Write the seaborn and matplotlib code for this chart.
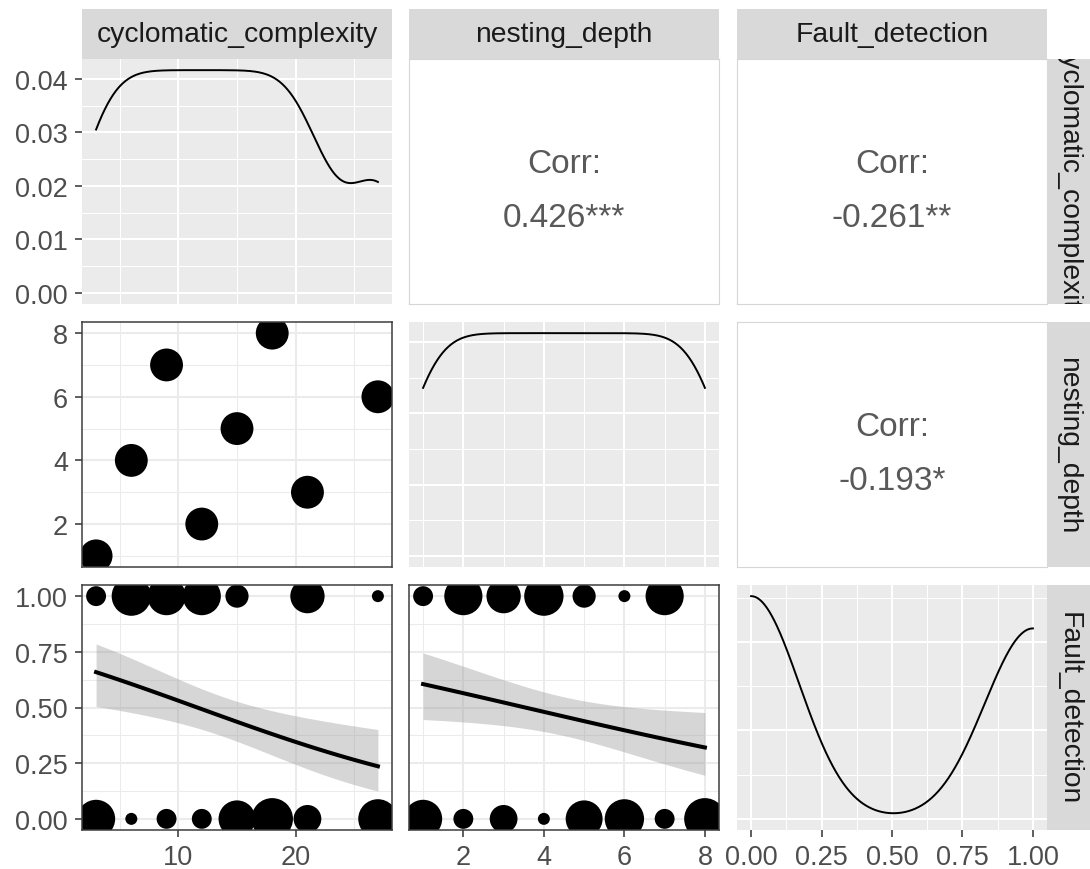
import numpy as np
import pandas as pd
import matplotlib
matplotlib.use("Agg")
import matplotlib.pyplot as plt
from matplotlib.ticker import MultipleLocator, FormatStrFormatter
import seaborn as sns

# ---------------------------------------------------------------- data
# Modules grouped by (cyclomatic_complexity, nesting_depth); for every group
# the number of modules whose fault was / was not detected.
cyclomatic_complexity = [3, 6, 9, 12, 15, 18, 21, 27]
nesting_depth = [1, 4, 7, 2, 5, 8, 3, 6]
fault_found = [3, 14, 13, 13, 4, 0, 10, 2]      # Fault_detection == 1
fault_missed = [13, 2, 3, 3, 12, 16, 6, 14]     # Fault_detection == 0

variables = ["cyclomatic_complexity", "nesting_depth", "Fault_detection"]

# Correlations printed in the upper triangle (row, column) of the matrix
corr_pairs = [(0, 1), (0, 2), (1, 2)]
corr_values = [0.426, -0.261, -0.193]
corr_stars = ["***", "**", "*"]

# Axis breaks for each variable
major_breaks = {
    "cyclomatic_complexity": [10, 20],
    "nesting_depth": [2, 4, 6, 8],
    "Fault_detection": [0.0, 0.25, 0.5, 0.75, 1.0],
}
minor_breaks = {
    "cyclomatic_complexity": [5, 15, 25],
    "nesting_depth": [1, 3, 5, 7],
    "Fault_detection": [0.125, 0.375, 0.625, 0.875],
}
tick_labels = {
    "cyclomatic_complexity": ["10", "20"],
    "nesting_depth": ["2", "4", "6", "8"],
    "Fault_detection": ["0.00", "0.25", "0.50", "0.75", "1.00"],
}
# (major, minor) spacing of the density scale on the diagonal panels
density_steps = {
    "cyclomatic_complexity": (0.01, 0.005),
    "nesting_depth": (0.04, 0.02),
    "Fault_detection": (0.5, 0.25),
}

# one row per module
records = []
for cc, nd, n1, n0 in zip(cyclomatic_complexity, nesting_depth, fault_found, fault_missed):
    records += [(cc, nd, 1)] * n1 + [(cc, nd, 0)] * n0
obs = pd.DataFrame(records, columns=variables)

# ---------------------------------------------------------------- style
plt.rcParams["font.family"] = ["Liberation Sans", "DejaVu Sans"]
TICK_FS = 19.5
STRIP_FS = 20.3
TICK_TEXT = "#4D4D4D"
TICK_MARK = "#333333"
STRIP_BG = "#D9D9D9"
PANEL_BG = "#EBEBEB"

W, H = 1090, 870
fig = plt.figure(figsize=(W / 100, H / 100), dpi=100)


def px_rect(x0, y0, x1, y1):
    return [x0 / W, 1 - y1 / H, (x1 - x0) / W, (y1 - y0) / H]


col_px = [(82, 392), (409, 719), (737, 1047)]
row_px = [(60, 305), (323, 568), (586, 831)]


def expanded(var):
    lo, hi = obs[var].min(), obs[var].max()
    pad = 0.05 * (hi - lo)
    return lo - pad, hi + pad


def bubble_sizes(levels):
    """Marker areas (pt^2) growing with the square root of the count."""
    levels = np.asarray(levels, dtype=float)
    span = levels.max() - levels.min()
    t = (levels - levels.min()) / span if span > 0 else np.full_like(levels, 0.5)
    diam_px = 12 + 29.5 * np.sqrt(t)
    return (diam_px * 0.72) ** 2


def expit(v):
    return 1.0 / (1.0 + np.exp(-v))


def logistic_band(x, y, grid, z=1.959964):
    """Binomial GLM fit with a 95% band built on the link scale."""
    X = np.column_stack([np.ones_like(x), x])
    beta = np.zeros(2)
    for _ in range(100):
        p = expit(X @ beta)
        w = p * (1 - p)
        step = np.linalg.solve((X.T * w) @ X, X.T @ (y - p))
        beta = beta + step
        if np.max(np.abs(step)) < 1e-12:
            break
    p = expit(X @ beta)
    w = p * (1 - p)
    cov = np.linalg.inv((X.T * w) @ X)
    G = np.column_stack([np.ones_like(grid), grid])
    eta = G @ beta
    se = np.sqrt(np.einsum("ij,jk,ik->i", G, cov, G))
    return expit(eta), expit(eta - z * se), expit(eta + z * se)


def style_grid(ax, line_color):
    ax.set_axisbelow(True)
    ax.grid(which="major", color=line_color, linewidth=1.5)
    ax.grid(which="minor", color=line_color, linewidth=0.75)


n_vars = len(variables)
for i, yvar in enumerate(variables):
    for j, xvar in enumerate(variables):
        ax = fig.add_axes(px_rect(col_px[j][0], row_px[i][0], col_px[j][1], row_px[i][1]))

        if i < j:
            # correlation text
            ax.set_facecolor("white")
            k = corr_pairs.index((i, j))
            ax.text(0.5, 0.575, "Corr:", transform=ax.transAxes, ha="center", va="center",
                    fontsize=24, color="#595959")
            ax.text(0.5, 0.355, f"{corr_values[k]:.3f}{corr_stars[k]}", transform=ax.transAxes,
                    ha="center", va="center", fontsize=24, color="#595959")
            ax.set_xticks([])
            ax.set_yticks([])
            for s in ax.spines.values():
                s.set_color("#D6D6D6")
                s.set_linewidth(0.8)
            continue

        ax.set_xlim(*expanded(xvar))
        ax.set_xticks(major_breaks[xvar])
        ax.set_xticks(minor_breaks[xvar], minor=True)

        if i == j:
            # marginal density
            ax.set_facecolor(PANEL_BG)
            col = obs[xvar]
            sd = col.std()
            iqr = col.quantile(0.75) - col.quantile(0.25)
            adj = 0.9 * min(sd, iqr / 1.34) / sd
            sns.kdeplot(data=obs, x=xvar, ax=ax, cut=0, bw_adjust=adj, gridsize=512,
                        color="black", linewidth=1.4)
            peak = ax.lines[0].get_ydata().max()
            ax.set_ylim(-0.05 * peak, 1.05 * peak)
            major, minor = density_steps[xvar]
            ax.yaxis.set_major_locator(MultipleLocator(major))
            ax.yaxis.set_minor_locator(MultipleLocator(minor))
            ax.yaxis.set_major_formatter(FormatStrFormatter("%.2f"))
            style_grid(ax, "white")
            for s in ax.spines.values():
                s.set_visible(False)
        else:
            # bubble scatter, sized by number of modules at each location
            ax.set_facecolor("white")
            counts = obs.groupby([xvar, yvar]).size().reset_index(name="n")
            levels = np.sort(counts["n"].unique())
            size_map = dict(zip(levels.tolist(), bubble_sizes(levels)))
            sns.scatterplot(data=counts, x=xvar, y=yvar, size="n", sizes=size_map,
                            color="black", linewidth=0, legend=False, ax=ax)
            if yvar == "Fault_detection":
                xs = obs[xvar].to_numpy(float)
                ys = obs[yvar].to_numpy(float)
                grid = np.linspace(xs.min(), xs.max(), 80)
                fit, lo, hi = logistic_band(xs, ys, grid)
                ax.fill_between(grid, lo, hi, color="#999999", alpha=0.4, linewidth=0)
                sns.lineplot(x=grid, y=fit, ax=ax, color="black", linewidth=2.9)
            ax.set_ylim(*expanded(yvar))
            ax.set_yticks(major_breaks[yvar])
            ax.set_yticks(minor_breaks[yvar], minor=True)
            style_grid(ax, PANEL_BG)
            for s in ax.spines.values():
                s.set_color("#3D3D3D")
                s.set_linewidth(1.1)

        ax.set_xlabel("")
        ax.set_ylabel("")

        # outer axes only carry ticks and labels
        if j == 0:
            ax.tick_params(axis="y", which="major", length=5, width=1.1, color=TICK_MARK,
                           labelsize=TICK_FS, labelcolor=TICK_TEXT, pad=5)
            if i > 0:
                ax.set_yticklabels(tick_labels[yvar])
        else:
            ax.tick_params(axis="y", which="major", length=0, labelleft=False)
        ax.tick_params(axis="y", which="minor", length=0)

        if i == n_vars - 1:
            ax.set_xticklabels(tick_labels[xvar])
            ax.tick_params(axis="x", which="major", length=5, width=1.1, color=TICK_MARK,
                           labelsize=TICK_FS, labelcolor=TICK_TEXT, pad=5)
        else:
            ax.tick_params(axis="x", which="major", length=0, labelbottom=False)
        ax.tick_params(axis="x", which="minor", length=0)


def strip(rect, label, rotation):
    sax = fig.add_axes(rect)
    sax.set_facecolor(STRIP_BG)
    sax.set_xticks([])
    sax.set_yticks([])
    for s in sax.spines.values():
        s.set_visible(False)
    sax.text(0.5, 0.5, label, rotation=rotation, transform=sax.transAxes,
             ha="center", va="center", fontsize=STRIP_FS, color="#1A1A1A", clip_on=True)


for j, var in enumerate(variables):
    strip(px_rect(col_px[j][0], 10, col_px[j][1], 60), var, 0)
for i, var in enumerate(variables):
    strip(px_rect(1047, row_px[i][0], 1090, row_px[i][1]), var, -90)

fig.savefig("out.png", dpi=100)
